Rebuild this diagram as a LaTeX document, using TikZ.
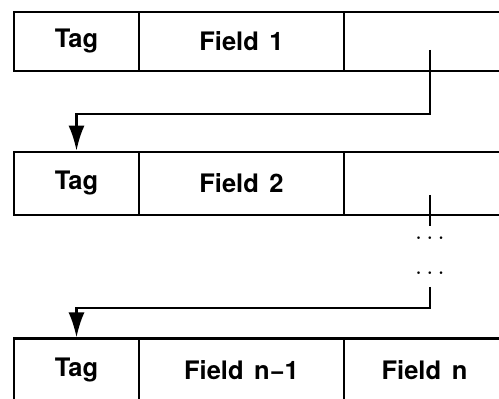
\documentclass[tikz,border=0pt]{standalone}
\usepackage{fontspec}
\setmainfont{TeX Gyre Heros}[WordSpace=1.5]
\usetikzlibrary{positioning}
\usetikzlibrary{arrows.meta}

\begin{document}
\begin{tikzpicture} [
        line width=1.3pt,
        cellnode/.style={
            rectangle,
            draw,
            minimum height=1.26cm,
            font=\fontsize{14.5}{17}\selectfont\bfseries
        },
        tagnode/.style={cellnode, minimum width=2.5cm},
        fieldnode/.style={cellnode, minimum width=4.1cm},
        linknode/.style={cellnode, minimum width=3.22cm},
        dotsnode/.style={inner sep=0pt, font=\fontsize{15}{17}\selectfont},
        pointer/.style={-{Latex[length=5mm,width=3.2mm]}}
    ]

        \useasboundingbox (0,0) rectangle (9.98,7.98);
        \clip (0,0) rectangle (9.98,7.98);

        \node[tagnode, minimum height=1.18cm]   (tagA) at (1.53,7.15)                   {Tag};
        \node[fieldnode, minimum height=1.18cm] (fieldA) [right=-\pgflinewidth of tagA]   {Field 1};
        \node[linknode, minimum height=1.18cm]  (linkA) [right=-\pgflinewidth of fieldA]  {};

        \node[tagnode]      (tagB) [below=1.57cm of tagA]             {Tag};
        \node[fieldnode]    (fieldB) [right=-\pgflinewidth of tagB]   {Field 2};
        \node[linknode]     (linkB) [right=-\pgflinewidth of fieldB]  {};

        \node[tagnode]      (tagC) [below=2.43cm of tagB]             {Tag};
        \node[fieldnode]    (fieldC) [right=-\pgflinewidth of tagC]   {Field n−1};
        \node[linknode]     (lastC) [right=-\pgflinewidth of fieldC]  {Field n};

        \coordinate (srcA)    at (8.6,6.98);
        \coordinate (bendA)   at (8.6,5.70);
        \coordinate (srcB)    at (8.6,4.08);
        \coordinate (gapB)    at (8.6,3.46);
        \coordinate (resumeC) at (8.6,2.24);
        \coordinate (bendC)   at (8.6,1.82);

        \node[dotsnode] (dotsA) at (8.6,3.20) {$\cdots$};
        \node[dotsnode] (dotsB) at (8.6,2.50) {$\cdots$};

        \draw[pointer] (srcA) -- (bendA) -| (tagB.north);
        \draw (srcB) -- (gapB);
        \draw[pointer] (resumeC) -- (bendC) -| (tagC.north);

    \end{tikzpicture}
\end{document}
